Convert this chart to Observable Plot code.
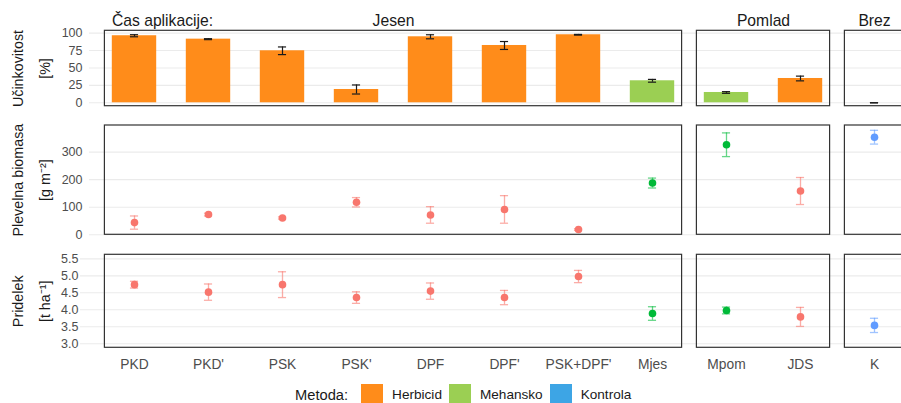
<!DOCTYPE html>
<html><head><meta charset="utf-8">
<script src="https://cdn.jsdelivr.net/npm/d3@7"></script>
<script src="https://cdn.jsdelivr.net/npm/@observablehq/plot@0.6"></script>
<style>
html,body{margin:0;padding:0;background:#fff}
body{width:901px;height:403px;overflow:hidden;position:relative;font-family:"Liberation Sans",Arial,sans-serif}
.row{position:absolute;left:0}
#legend{position:absolute;left:295px;top:383.5px;height:22px;display:flex;align-items:center;color:#1a1a1a;white-space:nowrap}
#legend .ttl{font-size:14.7px;margin-right:13px}
#legend .sw{width:22px;height:22px;box-sizing:border-box}
#legend .lb{font-size:13.6px;margin-left:9px;margin-right:7px}
</style></head><body>
<div id="r1" class="row" style="top:0px"></div>
<div id="r2" class="row" style="top:112px"></div>
<div id="r3" class="row" style="top:245px"></div>
<div id="legend"></div>
<script>
// ---- data ----
const categories = ["PKD","PKD'","PSK","PSK'","DPF","DPF'","PSK+DPF'","Mjes","Mpom","JDS","K"];
const seasons    = ["Jesen","Jesen","Jesen","Jesen","Jesen","Jesen","Jesen","Jesen","Pomlad","Pomlad","Brez"];
const methods    = ["Herbicid","Herbicid","Herbicid","Herbicid","Herbicid","Herbicid","Herbicid","Mehansko","Mehansko","Herbicid","Kontrola"];
const efficacy    = [96.3, 91.4, 74.7, 19.1, 94.8, 82.3, 97.7, 31.6, 14.8, 34.9, 0];
const efficacyErr = [1.5, 0.7, 5.5, 6.5, 2.9, 5.7, 0.5, 2.0, 1.2, 3.4, 0];
const biomass     = [44.3, 73.4, 61, 118, 72, 92, 19.2, 187.7, 326.6, 158.8, 354];
const biomassErr  = [24, 5, 4, 17, 30, 50, 3, 18, 43, 49, 25];
const yieldT      = [4.74, 4.52, 4.74, 4.36, 4.55, 4.36, 4.98, 3.89, 3.98, 3.79, 3.54];
const yieldErr    = [0.10, 0.24, 0.38, 0.17, 0.24, 0.21, 0.18, 0.20, 0.10, 0.28, 0.21];
const seasonLabels = ["Jesen","Pomlad","Brez"];
const methodLabels = ["Herbicid","Mehansko","Kontrola"];
const effTicks = [0,25,50,75,100];
const bioTicks = [0,100,200,300];
const yldTicks = [3.0,3.5,4.0,4.5,5.0,5.5];

// ---- styles ----
const barColors   = {Herbicid:"#FF8C1A", Mehansko:"#9BCF53", Kontrola:"#3DA5E5"};
const pointColors = {Herbicid:"#F8766D", Mehansko:"#00BA38", Kontrola:"#619CFF"};
const FONT = "Liberation Sans, Arial, sans-serif";
const W = 901, STEP = 74, X0 = 134;

const data = categories.map((c,i)=>({i, cat:c, season:seasons[i], method:methods[i],
  eff:efficacy[i], effErr:efficacyErr[i], bio:biomass[i], bioErr:biomassErr[i], yld:yieldT[i], yldErr:yieldErr[i]}));
const panels = seasonLabels.map(s=>{
  const idx = data.filter(d=>d.season===s).map(d=>d.i);
  return {season:s, lo:d3.min(idx)-0.4, hi:d3.max(idx)+0.4, mid:(d3.min(idx)+d3.max(idx))/2};
});

function row({el, height, mT, mB, mL, yDomain, ticks, fmt, tickPad, titles, extra, xAxis}) {
  const x0 = -(X0-mL)/STEP, x1 = (W-X0)/STEP;
  const marks = [
    Plot.gridY({ticks, stroke:"#EBEBEB", strokeOpacity:1, strokeWidth:1.1}),
    Plot.axisY({ticks, tickSize:0, tickPadding:tickPad, tickFormat:fmt, fontSize:12.5, fill:"#4D4D4D", label:null}),
    ...extra,
    Plot.rect(panels, {x1:"lo", x2:"hi", y1:()=>yDomain[0], y2:()=>yDomain[1], fill:"none", stroke:"#333", strokeWidth:1.2}),
    Plot.text([titles[0]], {text:d=>d, frameAnchor:"left", dx:-(mL-17.5), rotate:-90, textAnchor:"middle", lineAnchor:"middle", fontSize:14.3, fill:"#1a1a1a"}),
    Plot.text([titles[1]], {text:d=>d, frameAnchor:"left", dx:-(mL-45), rotate:-90, textAnchor:"middle", lineAnchor:"middle", fontSize:14.3, fill:"#1a1a1a"})
  ];
  if (xAxis) marks.push(Plot.axisX({ticks:categories.map((_,i)=>i), tickFormat:i=>categories[i], tickSize:0, tickPadding:11, fontSize:13.8, fill:"#4D4D4D", label:null}));
  const p = Plot.plot({
    width:W, height, marginTop:mT, marginBottom:mB, marginLeft:mL, marginRight:0,
    style:{fontFamily:FONT, background:"#fff"},
    x:{type:"linear", domain:[x0,x1], axis:null},
    y:{domain:yDomain, axis:null},
    color:{type:"identity"},
    marks
  });
  document.getElementById(el).appendChild(p);
}

function pointMarks(v, e) {
  return [
    Plot.ruleX(data, {x:"i", y1:d=>d[v]-d[e], y2:d=>d[v]+d[e], stroke:d=>pointColors[d.method], strokeOpacity:0.6, strokeWidth:1.3}),
    Plot.ruleY(data, {y:d=>d[v]-d[e], x1:d=>d.i-0.055, x2:d=>d.i+0.055, stroke:d=>pointColors[d.method], strokeOpacity:0.6, strokeWidth:1.3}),
    Plot.ruleY(data, {y:d=>d[v]+d[e], x1:d=>d.i-0.055, x2:d=>d.i+0.055, stroke:d=>pointColors[d.method], strokeOpacity:0.6, strokeWidth:1.3}),
    Plot.dot(data, {x:"i", y:v, r:3.8, fill:d=>pointColors[d.method], stroke:"none"})
  ];
}

// Row 1: efficacy bars
row({el:"r1", height:112, mT:30.3, mB:6.3, mL:89, yDomain:[-4.9,103.4], ticks:effTicks, fmt:d=>String(d), tickPad:7,
  titles:["Učinkovitost","[%]"],
  extra:[
    Plot.rect(data, {x1:d=>d.i-0.3, x2:d=>d.i+0.3, y1:()=>0, y2:"eff", fill:d=>barColors[d.method]}),
    Plot.ruleX(data, {x:"i", y1:d=>d.eff-d.effErr, y2:d=>d.eff+d.effErr, stroke:"#1a1a1a", strokeWidth:1.2}),
    Plot.ruleY(data, {y:d=>d.eff-d.effErr, x1:d=>d.i-0.055, x2:d=>d.i+0.055, stroke:"#1a1a1a", strokeWidth:1.2}),
    Plot.ruleY(data, {y:d=>d.eff+d.effErr, x1:d=>d.i-0.055, x2:d=>d.i+0.055, stroke:"#1a1a1a", strokeWidth:1.2}),
    Plot.text(panels, {x:"mid", text:"season", frameAnchor:"top", lineAnchor:"bottom", dy:-5.3, fontSize:15.7, fill:"#1a1a1a"}),
    Plot.text(["Čas aplikacije:"], {x:()=>panels[0].lo, text:d=>d, frameAnchor:"top", lineAnchor:"bottom", textAnchor:"start", dx:7, dy:-5.3, fontSize:15.7, fill:"#1a1a1a"})
  ]});

// Row 2: weed biomass
row({el:"r2", height:133, mT:13, mB:10.7, mL:89, yDomain:[0,396.4], ticks:bioTicks, fmt:d=>String(d), tickPad:7,
  titles:["Plevelna biomasa","[g m⁻²]"], extra:pointMarks("bio","bioErr")});

// Row 3: yield
row({el:"r3", height:130, mT:9.3, mB:27.7, mL:80, yDomain:[2.88,5.62], ticks:yldTicks, fmt:d=>d.toFixed(1), tickPad:2,
  titles:["Pridelek","[t ha⁻¹]"], extra:pointMarks("yld","yldErr"), xAxis:true});

// Legend
const lg = document.getElementById("legend");
const t = document.createElement("span"); t.className="ttl"; t.textContent="Metoda:"; lg.appendChild(t);
methodLabels.forEach(m=>{
  const s=document.createElement("span"); s.className="sw"; s.style.background=barColors[m]; lg.appendChild(s);
  const l=document.createElement("span"); l.className="lb"; l.textContent=m; lg.appendChild(l);
});
</script>
</body></html>
